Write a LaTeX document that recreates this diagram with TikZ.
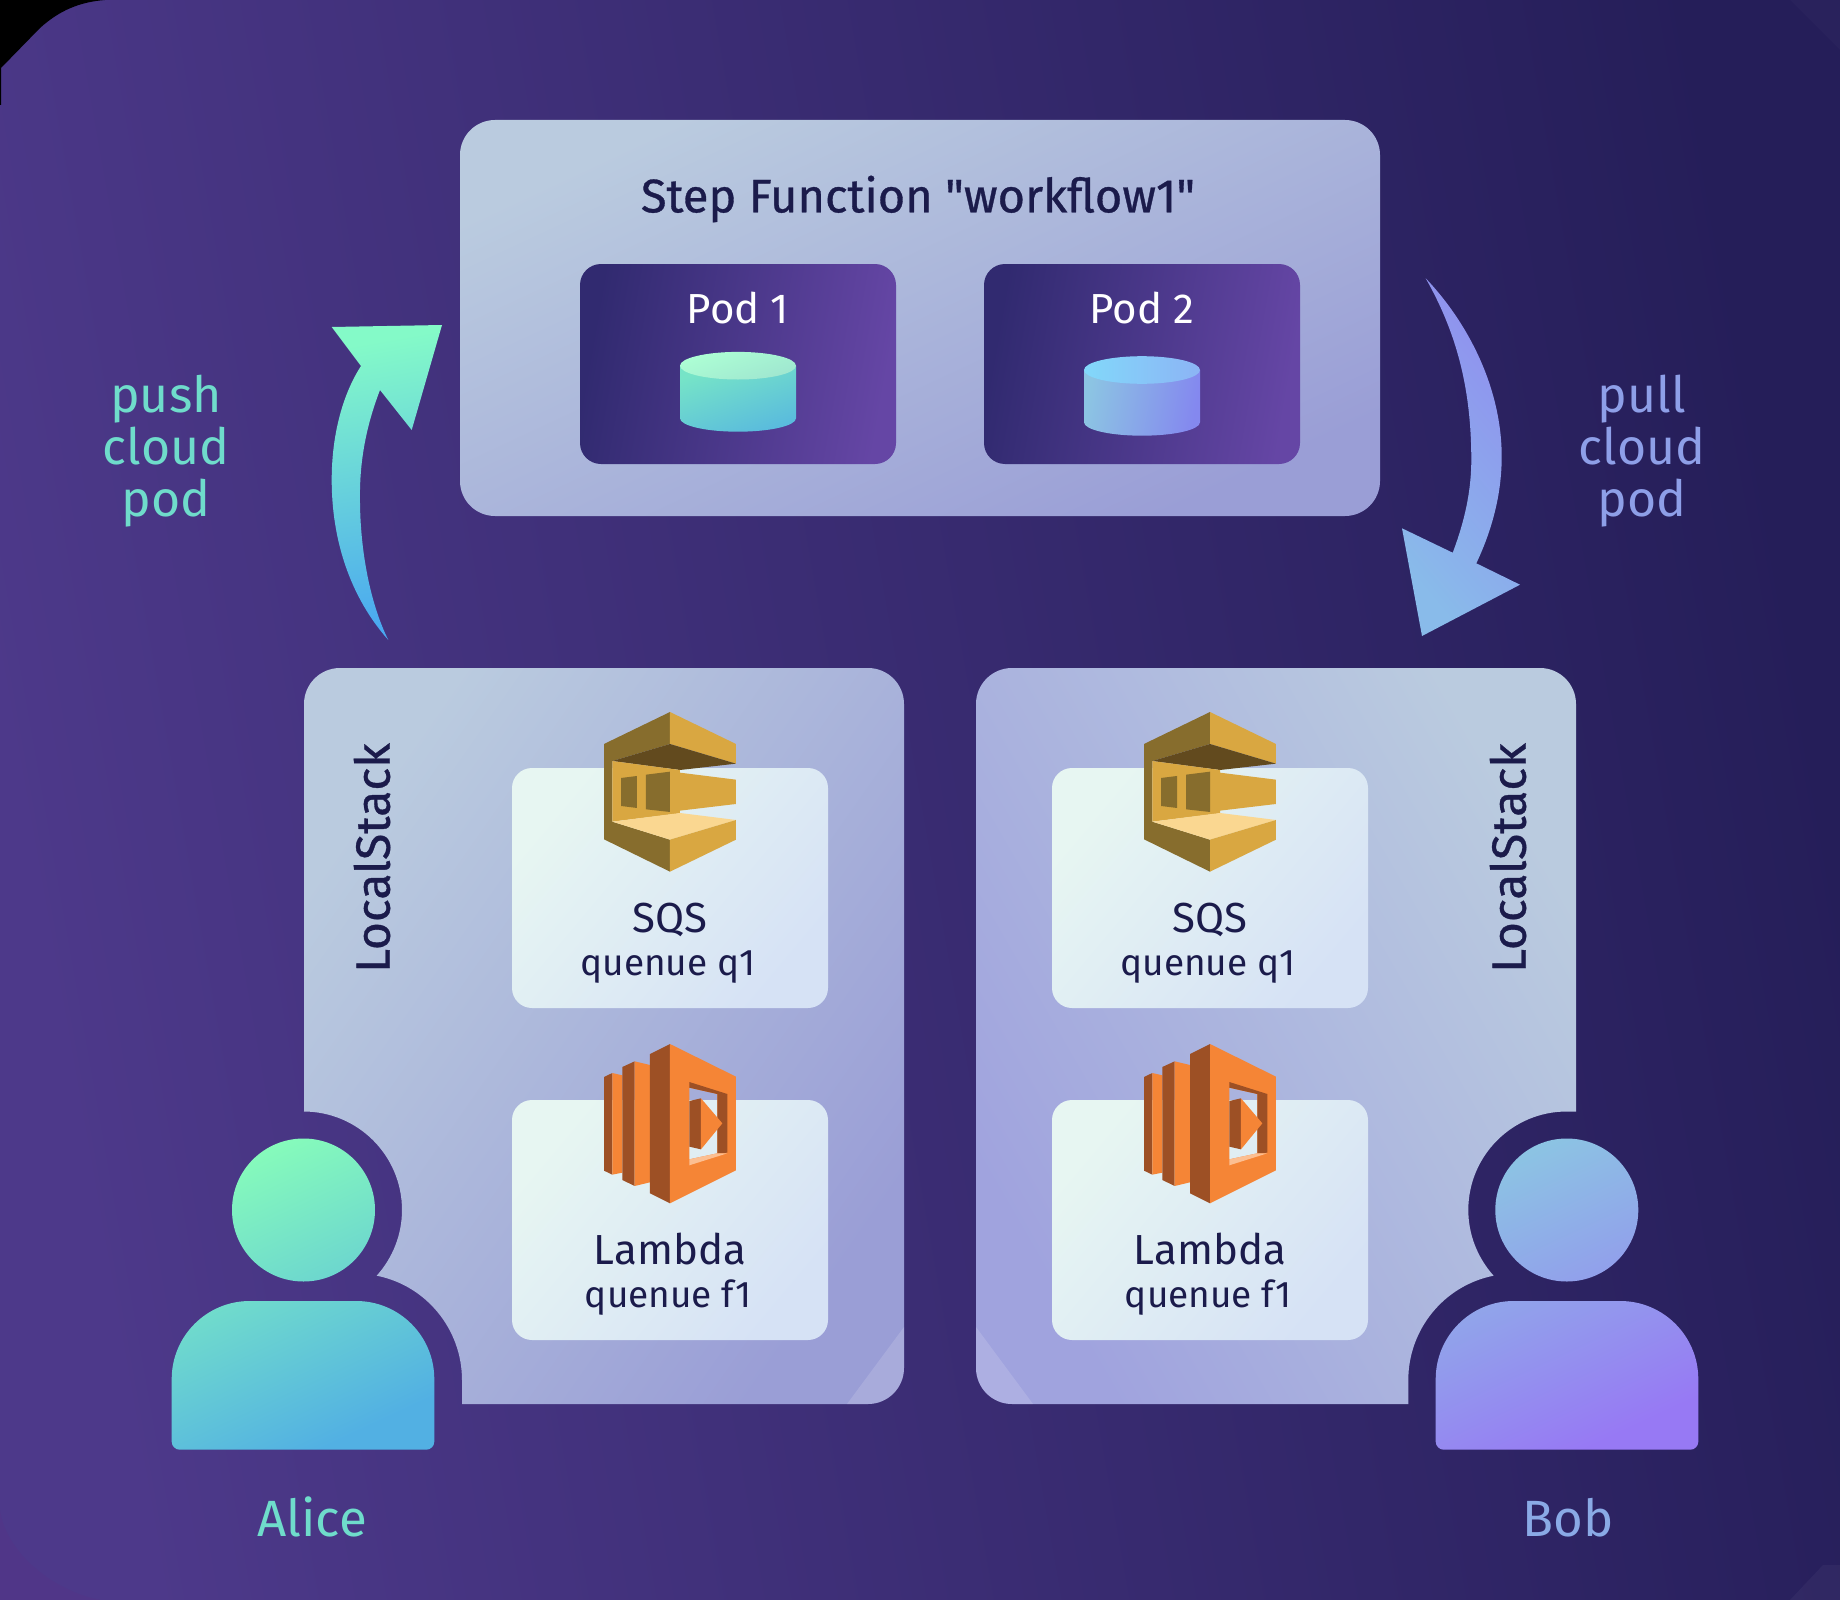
\documentclass[tikz,border=0pt]{standalone}
\usepackage{fontspec}
\setmainfont{Fira Sans}
\newfontfamily\medfont{Fira Sans}[FakeBold=0.7]
\definecolor{inkdark}{HTML}{1B1B4B}
\definecolor{sqsdark}{HTML}{876D2D}
\definecolor{sqsmid}{HTML}{D9A741}
\definecolor{sqsdeep}{HTML}{624A1E}
\definecolor{sqslight}{HTML}{FAD791}
\definecolor{lamfront}{HTML}{F58536}
\definecolor{lamside}{HTML}{9D5025}
\definecolor{lamlight}{HTML}{FCBF92}
\definecolor{pushtext}{HTML}{6FDCCB}
\definecolor{pulltext}{HTML}{8E9FE8}
\definecolor{bobtext}{HTML}{8AAAE6}
\definecolor{HGa}{HTML}{4D398A}
\definecolor{HGb}{HTML}{251E59}
\definecolor{HPa}{HTML}{BACBDF}
\definecolor{HPb}{HTML}{A9B0DF}
\definecolor{HPc}{HTML}{9A9ED6}
\definecolor{HPd}{HTML}{A0A3DE}
\definecolor{HQa}{HTML}{312A70}
\definecolor{HQb}{HTML}{6546A5}
\definecolor{HCa}{HTML}{E7F6F2}
\definecolor{HCb}{HTML}{D6E2F5}
\definecolor{HAa}{HTML}{86FBBB}
\definecolor{HAb}{HTML}{52B0E3}
\definecolor{HBa}{HTML}{8CC4E3}
\definecolor{HBb}{HTML}{9779F4}
\tikzset{
	panelleft/.style={top color=HPa,middle color=HPb,bottom color=HPc,shading angle=55},
	panelright/.style={top color=HPa,middle color=HPb,bottom color=HPd,shading angle=-60},
	podbox/.style={left color=HQa,right color=HQb,shading angle=80},
	cardbox/.style={top color=HCa,bottom color=HCb,shading angle=50},
	alicefill/.style={top color=HAa,bottom color=HAb,shading angle=25},
	bobfill/.style={top color=HBa,bottom color=HBb,shading angle=25},
	titletext/.style={text=inkdark,font=\medfont\fontsize{47}{50}\selectfont},
	podtext/.style={text=white,font=\fontsize{42}{46}\selectfont,anchor=base},
	sidetext/.style={font=\fontsize{50}{52}\selectfont,align=center},
	nametext/.style={font=\fontsize{51}{52}\selectfont,anchor=base},
	stacktext/.style={text=inkdark,font=\medfont\fontsize{48}{50}\selectfont,rotate=90},
	svctext/.style={text=inkdark,font=\fontsize{42}{46}\selectfont,anchor=base},
	subtext/.style={text=inkdark,font=\fontsize{37}{42}\selectfont,anchor=base},
}
\begin{document}
\begin{tikzpicture}[x=1pt,y=-1pt]
	\useasboundingbox (0,0) rectangle (1840,1600);
	% backdrop
	\fill[left color=HGa,right color=HGb,shading angle=100] (0,0) rectangle (1840,1600);
	\fill[black] (0,0) -- (105,0) .. controls (80,2) and (60,10) .. (40,28) -- (1,68) -- (1,105) -- (0,105) -- cycle;
	\fill[white,opacity=.02] (1790,0) -- (1840,50) -- (1840,0) -- cycle;
	\fill[red!60!blue,opacity=.05] (0,1510) .. controls (5,1550) and (50,1590) .. (100,1600) -- (0,1600) -- cycle;
	\fill[white,opacity=.04] (1823,1565) -- (1790,1600) -- (1840,1600) -- (1840,1565) -- cycle;
	% step function box
	\path[top color=HPa,middle color=HPb,bottom color=HPc,shading angle=25,rounded corners=35pt] (460,120) rectangle (1380,516);
	\node[titletext] (stepname) at (918,199) {Step Function "workflow1"};
	\foreach \px/\pname/\plabel in {580/poda/Pod 1,984/podb/Pod 2} {
		\path[podbox,rounded corners=21pt] (\px,264) rectangle +(316,200);
		\node[podtext] (\pname) at (\px+158,323) {\plabel};
	}
	% cylinders
	\path[top color=HAa!70!HAb,bottom color=HAb!85!HAa,shading angle=20] (680,365.7) -- (680,418.3) .. controls (680,425.7) and (706,431.7) .. (738,431.7) .. controls (770,431.7) and (796,425.7) .. (796,418.3) -- (796,365.7) -- cycle;
	\path[top color={rgb,255:red,173;green,255;blue,212},bottom color={rgb,255:red,159;green,230;blue,208},shading angle=20] (738,365.7) ellipse [x radius=58,y radius=13.8];
	\path[left color=HBa,right color=HBb!60!HBa!90!blue,shading angle=80] (1084,370) -- (1084,422.3) .. controls (1084,429.7) and (1110,435.7) .. (1142,435.7) .. controls (1174,435.7) and (1200,429.7) .. (1200,422.3) -- (1200,370) -- cycle;
	\path[left color={rgb,255:red,130;green,216;blue,250},right color={rgb,255:red,140;green,180;blue,245},shading angle=90] (1142,370) ellipse [x radius=58,y radius=13.8];
	% curved arrows
	\path[top color={rgb,255:red,132;green,250;blue,200},bottom color={rgb,255:red,74;green,168;blue,240},shading angle=10] (331.7,327) -- (442,325) -- (411.7,430) -- (380,390) .. controls (363.3,433.3) and (359.3,470) .. (360,503.3) .. controls (360.7,556.7) and (371.7,606.7) .. (388.3,640) .. controls (350,596.7) and (331.7,540) .. (331.7,480) .. controls (331.7,433.3) and (343.3,393.3) .. (361,366) -- cycle;
	\path[top color={rgb,255:red,144;green,143;blue,239},middle color={rgb,255:red,143;green,154;blue,238},bottom color={rgb,255:red,137;green,187;blue,234},shading angle=-50] (1425.7,278.3) .. controls (1470,325) and (1501.7,390) .. (1501.7,456.7) .. controls (1501.7,490) and (1494,526) .. (1476.3,563.3) -- (1520,584.7) -- (1422,636) -- (1402,528.3) -- (1452.7,552.7) .. controls (1467,515) and (1471.3,485) .. (1471.3,460) .. controls (1471.3,385) and (1455,330) .. (1425.7,278.3) -- cycle;
	\node[sidetext,text=pushtext] (pushlabel) at (166,451.5) {push\\cloud\\pod};
	\node[sidetext,text=pulltext] (pulllabel) at (1642,451.5) {pull\\cloud\\pod};
	% localstack panels
	\path[panelleft] (304,1111.5) [rounded corners=36pt] -- (304,668) -- (904,668) -- (904,1404) -- (800,1404) [sharp corners] -- (462,1404) -- (462,1380) .. controls (462,1329.4) and (426.3,1285.5) .. (376.7,1275.7) .. controls (392.9,1257.6) and (402,1234.3) .. (402,1210) .. controls (402,1155.6) and (357.9,1111.5) .. (303.5,1111.5) -- cycle;
	\path[panelright] (1576,1111.5) [rounded corners=36pt] -- (1576,668) -- (976,668) -- (976,1404) -- (1100,1404) [sharp corners] -- (1408.3,1404) -- (1408.3,1380) .. controls (1408.3,1329.4) and (1444,1285.5) .. (1493.6,1275.7) .. controls (1477.4,1257.6) and (1468.3,1234.3) .. (1468.3,1210) .. controls (1468.3,1155.6) and (1512.4,1111.5) .. (1566.8,1111.5) -- cycle;
	\fill[white,opacity=.14] (904,1327) -- (847,1404) -- (868,1404) .. controls (888,1404) and (904,1388) .. (904,1368) -- cycle;
	\fill[white,opacity=.14] (976,1327) -- (1033,1404) -- (1012,1404) .. controls (992,1404) and (976,1388) .. (976,1368) -- cycle;
	\node[stacktext] (stackleft) at (372,858) {LocalStack};
	\node[stacktext] (stackright) at (1508,858) {LocalStack};
	% service cards and icons
	\foreach \ox/\side in {0/l,540/r} {
		\path[cardbox,rounded corners=20pt] (512+\ox,768) rectangle +(316,240);
		\path[cardbox,rounded corners=20pt] (512+\ox,1100) rectangle +(316,240);
		\node[svctext] (sqs\side) at (670+\ox,932) {SQS};
		\node[subtext] (qname\side) at (668+\ox,975) {quenue q1};
		\node[svctext] (lambda\side) at (670+\ox,1264) {Lambda};
		\node[subtext] (fname\side) at (668+\ox,1307) {quenue f1};
		\begin{scope}[shift={(560+\ox,690)},x=0.3333pt,y=-0.3333pt]
			\fill[sqsdark] (132,162) -- (330,66) -- (330,162) -- (157,213) -- (157,395) -- (330,449) -- (330,545) -- (132,448) -- cycle;
			\fill[sqsmid] (330,66) -- (528,162) -- (528,221) -- (330,162) -- cycle;
			\fill[sqsdeep] (157,213) -- (330,162) -- (528,221) -- (360,240) -- cycle;
			\fill[sqsmid] (157,213) -- (360,240) -- (360,248) -- (528,269) -- (528,342) -- (360,362) -- (360,370) -- (157,395) -- cycle;
			\fill[sqsdark] (183,264) -- (231,258) -- (231,354) -- (183,348) -- cycle;
			\fill[sqsdark] (258,254) -- (330,245) -- (330,366) -- (258,358) -- cycle;
			\fill[sqslight] (157,395) -- (360,369) -- (528,390) -- (330,449) -- cycle;
			\fill[sqsmid] (330,449) -- (528,390) -- (528,449) -- (330,545) -- cycle;
		\end{scope}
		\begin{scope}[shift={(560+\ox,1020)},x=0.3333pt,y=-0.3333pt]
			\fill[lamside] (132,171) -- (157,159) -- (157,464) -- (132,452) -- cycle;
			\fill[lamfront] (157,159) -- (187,166) -- (187,458) -- (157,464) -- cycle;
			\fill[lamside] (187,141) -- (224,124) -- (224,498) -- (187,480) -- cycle;
			\fill[lamfront] (224,124) -- (270,135) -- (270,487) -- (224,498) -- cycle;
			\fill[lamside] (270,102) -- (330,72) -- (330,550) -- (270,520) -- cycle;
			\fill[lamfront,even odd rule] (330,72) -- (528,170) -- (528,451) -- (330,550) -- cycle (388,203) -- (472,222) -- (472,400) -- (388,418) -- cycle;
			\fill[lamside] (388,186) -- (502,222) -- (472,222) -- (388,203) -- cycle;
			\fill[lamside] (502,222) -- (502,398) -- (472,400) -- (472,222) -- cycle;
			\fill[lamlight] (388,436) -- (502,400) -- (472,400) -- (388,418) -- cycle;
			\fill[lamside] (388,243) -- (423,235) -- (423,388) -- (388,380) -- cycle;
			\fill[lamfront] (423,235) -- (487,310) -- (423,388) -- cycle;
		\end{scope}
	}
	% people
	\path[alicefill] (303.5,1210) circle (71.5) (171.7,1379) .. controls (171.7,1336) and (206.7,1301) .. (249.7,1301) -- (356.3,1301) .. controls (399.3,1301) and (434.3,1336) .. (434.3,1379) -- (434.3,1441.7) .. controls (434.3,1446) and (430.7,1449.7) .. (426.3,1449.7) -- (179.7,1449.7) .. controls (175.3,1449.7) and (171.7,1446) .. (171.7,1441.7) -- cycle;
	\path[bobfill] (1566.8,1210) circle (71.5) (1435.7,1379) .. controls (1435.7,1336) and (1470.7,1301) .. (1513.7,1301) -- (1620.3,1301) .. controls (1663.3,1301) and (1698.3,1336) .. (1698.3,1379) -- (1698.3,1441.7) .. controls (1698.3,1446) and (1694.7,1449.7) .. (1690.3,1449.7) -- (1443.7,1449.7) .. controls (1439.3,1449.7) and (1435.7,1446) .. (1435.7,1441.7) -- cycle;
	\node[nametext,text=pushtext] (alice) at (312,1536) {Alice};
	\node[nametext,text=bobtext] (bob) at (1568,1536) {Bob};
\end{tikzpicture}
\end{document}
